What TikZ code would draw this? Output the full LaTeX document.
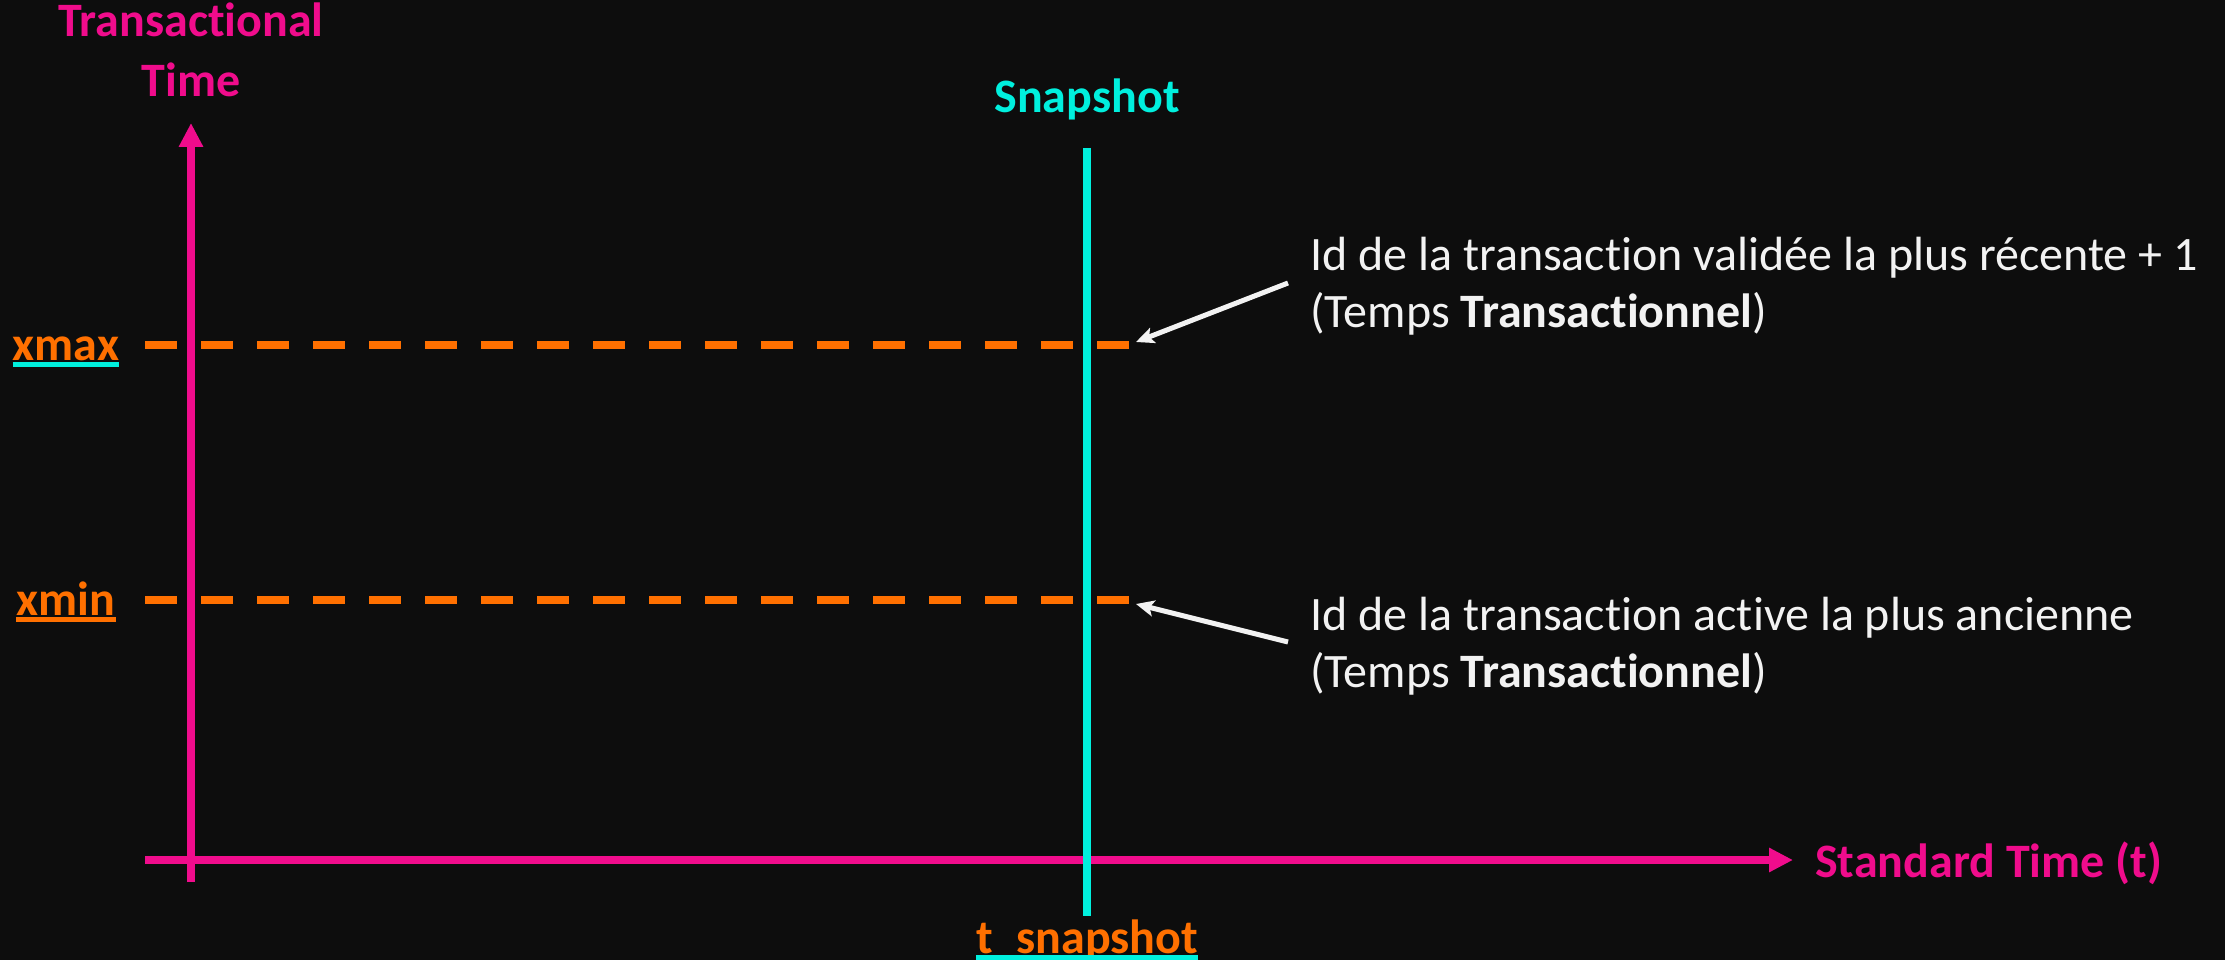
\documentclass[tikz,border=0pt]{standalone}
\usepackage{fontspec}
\setmainfont[Ligatures=NoCommon]{Carlito}
\usetikzlibrary{arrows.meta}
\definecolor{bg}{RGB}{13,13,13}
\definecolor{axispink}{RGB}{240,12,140}
\definecolor{markorange}{RGB}{255,112,0}
\definecolor{snapcyan}{RGB}{0,240,222}
\definecolor{notewhite}{RGB}{242,242,242}
\begin{document}
\begin{tikzpicture}[x=1pt,y=-1pt,
  axisline/.style={draw=axispink,line width=8pt,-{Triangle[length=24pt,width=23pt]}},
  boundline/.style={draw=markorange,line width=8pt,dash pattern=on 32pt off 24pt},
  snapline/.style={draw=snapcyan,line width=8pt},
  pointer/.style={draw=notewhite,line width=5pt,-{Stealth[length=18pt,width=16pt,inset=4pt]}},
  lbl/.style={inner sep=0pt,font=\fontsize{48}{57}\selectfont\bfseries},
  note/.style={inner sep=0pt,anchor=base west,text=notewhite,font=\fontsize{48}{57}\selectfont},
]
% canvas
\fill[bg] (0,0) rectangle (2225,960);
\useasboundingbox (0,0) rectangle (2225,960);

% anchor points of the axes and guides
\coordinate (yaxisfoot) at (191,882);
\coordinate (yaxistip) at (191,123);
\coordinate (xaxisfoot) at (145,860);
\coordinate (xaxistip) at (1793,860);
\coordinate (snaptop) at (1087,148);
\coordinate (snapfoot) at (1087,916);
\coordinate (xmaxstart) at (145,345);
\coordinate (xmaxend) at (1129,345);
\coordinate (xminstart) at (145,600);
\coordinate (xminend) at (1129,600);
\coordinate (xmaxnote) at (1288,283);
\coordinate (xmaxpoint) at (1136,342);
\coordinate (xminnote) at (1288,642);
\coordinate (xminpoint) at (1136,604);

% xmax / xmin levels
\draw[boundline] (xmaxstart) -- (xmaxend);
\draw[boundline] (xminstart) -- (xminend);

% axes
\draw[axisline] (yaxisfoot) -- (yaxistip);
\draw[axisline] (xaxisfoot) -- (xaxistip);

% snapshot instant
\draw[snapline] (snaptop) -- (snapfoot);

% axis titles
\node[lbl,anchor=base,text=axispink] (ytitleA) at (191,37) {Transactional};
\node[lbl,anchor=base,text=axispink] (ytitleB) at (191,97) {Time};
\node[lbl,anchor=base west,text=axispink] (xtitle) at (1815,877) {Standard Time (t)};
\node[lbl,anchor=base,text=snapcyan] (snaptitle) at (1087,113) {Snapshot};

% level labels with underlines
\node[lbl,anchor=base,text=markorange] (xmaxlbl) at (66,360) {xmax};
\draw[snapcyan,line width=5pt] ([yshift=-4.5pt]xmaxlbl.base west) -- ([yshift=-4.5pt]xmaxlbl.base east);
\node[lbl,anchor=base,text=markorange] (xminlbl) at (66,615) {xmin};
\draw[markorange,line width=5pt] ([yshift=-4.5pt]xminlbl.base west) -- ([yshift=-4.5pt]xminlbl.base east);
\node[lbl,anchor=base,text=markorange] (tsnaplbl) at (1087,953) {t\_snapshot};
\draw[snapcyan,line width=5pt] ([yshift=-4.5pt]tsnaplbl.base west) -- ([yshift=-4.5pt]tsnaplbl.base east);

% explanations
\node[note] (maxnoteA) at (1310,270) {Id de la transaction validée la plus récente + 1};
\node[note] (maxnoteB) at (1310,327) {(Temps \textbf{Transactionnel})};
\node[note] (minnoteA) at (1310,630) {Id de la transaction active la plus ancienne};
\node[note] (minnoteB) at (1310,687) {(Temps \textbf{Transactionnel})};

\draw[pointer] (xmaxnote) -- (xmaxpoint);
\draw[pointer] (xminnote) -- (xminpoint);
\end{tikzpicture}
\end{document}
